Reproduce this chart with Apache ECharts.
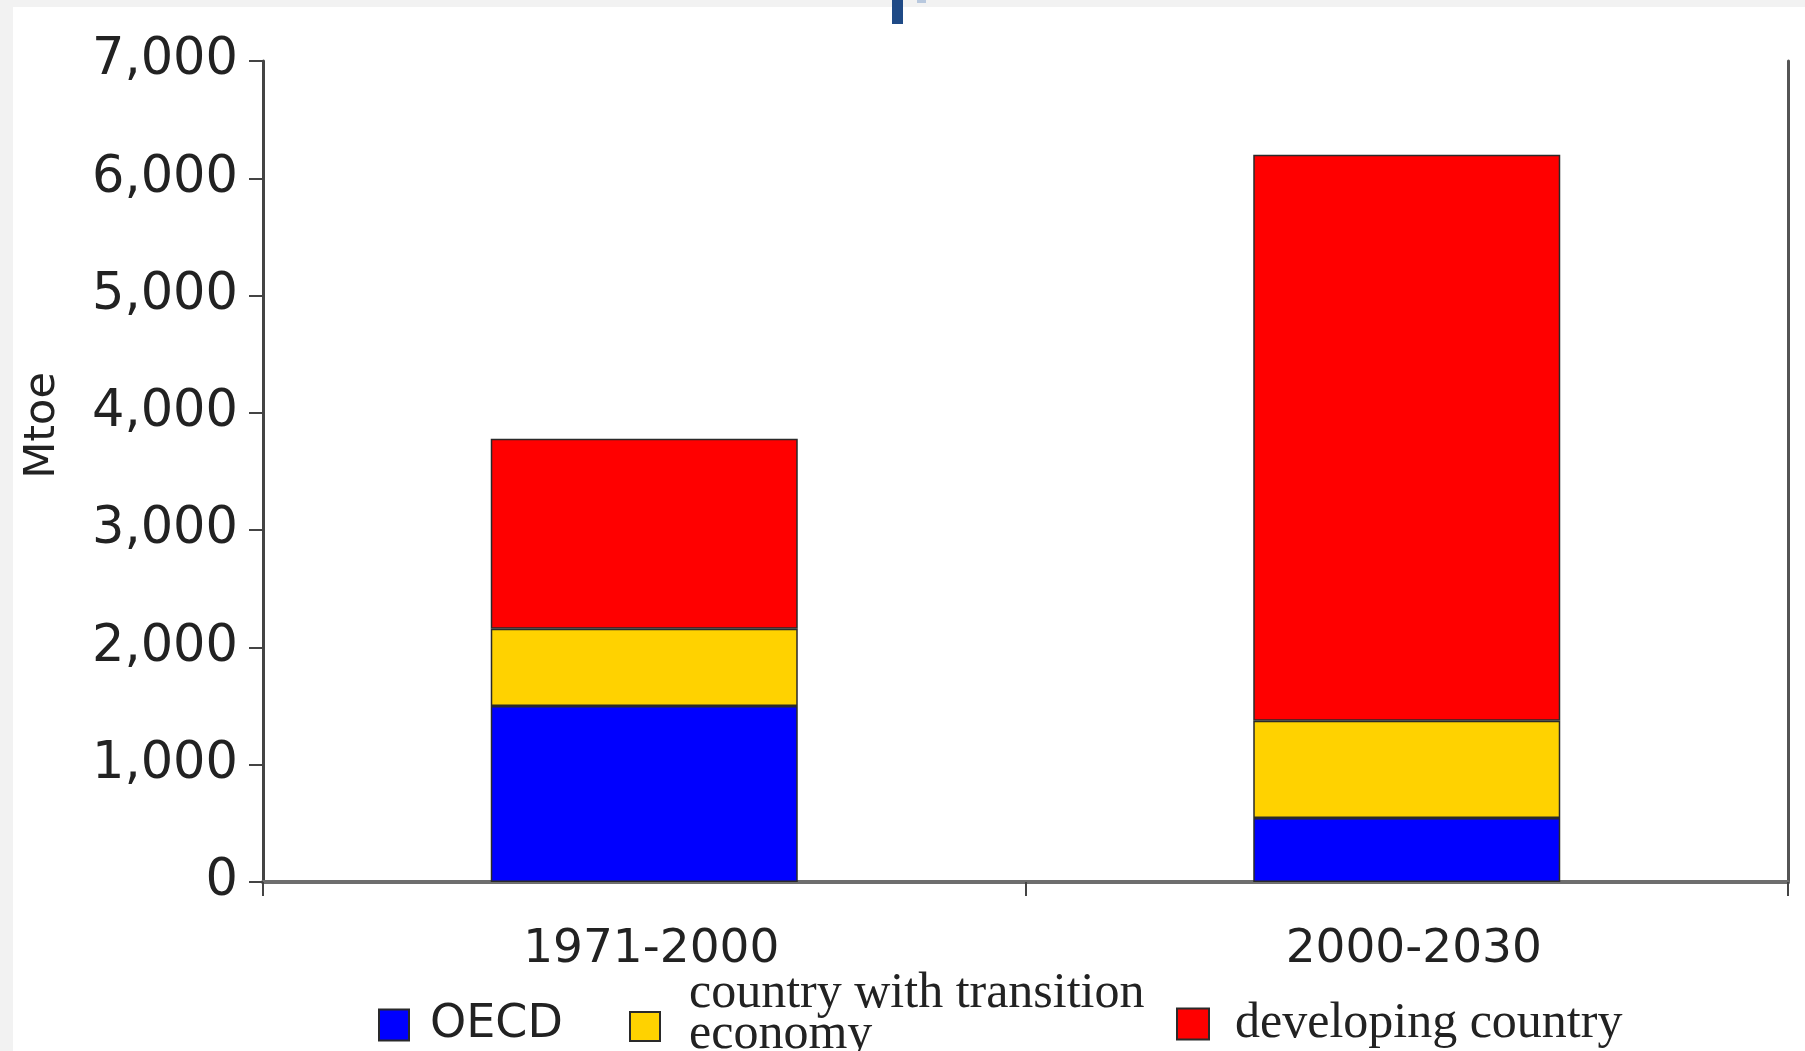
<!DOCTYPE html>
<html>
<head>
<meta charset="utf-8">
<script src="https://cdn.jsdelivr.net/npm/echarts@6/dist/echarts.min.js"></script>
<style>
  html, body { margin: 0; padding: 0; width: 1805px; height: 1051px; background: #f2f2f2; overflow: hidden; }
  #paper { position: absolute; left: 13px; top: 7px; right: 0; bottom: 0; background: #ffffff; }
  #mark { position: absolute; left: 892px; top: 0; width: 11px; height: 24px; background: #1f4a86; }
  #mark2 { position: absolute; left: 917px; top: 0; width: 9px; height: 3px; background: #b8c8de; }
  #main { position: absolute; left: 0; top: 0; width: 1805px; height: 1051px; }
</style>
</head>
<body>
<div id="paper"></div>
<div id="mark"></div>
<div id="mark2"></div>
<div id="main"></div>
<script>
// ---- data ----
const categories = ['1971-2000', '2000-2030'];
const oecd = [1500, 545];
const transition = [660, 830];
const developing = [1620, 4825];
const seriesNames = ['OECD', 'country with transition economy', 'developing country'];
const yTicks = [0, 1000, 2000, 3000, 4000, 5000, 6000, 7000];

const fmt = v => String(v).replace(/\B(?=(\d{3})+(?!\d))/g, ',');

const chart = echarts.init(document.getElementById('main'));
const border = { borderColor: '#2a2a2a', borderWidth: 1.5 };
const axisCol = '#444';

chart.setOption({
  backgroundColor: 'transparent',
  animation: false,
  grid: { left: 263, right: 17, top: 61, bottom: 169 },
  legend: [
    {
      data: [seriesNames[0]], left: 378, top: 1002, padding: 0, orient: 'horizontal',
      itemWidth: 30, itemHeight: 31, icon: 'rect',
      textStyle: { fontFamily: 'DejaVu Sans', fontSize: 46, color: '#222', padding: [0, 0, 0, 16] }
    },
    {
      data: [seriesNames[1]], left: 629, top: 969, padding: 0, orient: 'horizontal',
      itemWidth: 30, itemHeight: 29, icon: 'rect',
      formatter: function (name) {
        const cut = name.lastIndexOf(' ');
        return '{a|' + name.slice(0, cut) + '}\n{a|' + name.slice(cut + 1) + '}\n{s| }';
      },
      textStyle: {
        color: '#222', padding: [0, 0, 0, 24],
        rich: {
          a: { fontFamily: 'Liberation Serif', fontSize: 50, lineHeight: 41, color: '#222' },
          s: { fontSize: 8, lineHeight: 24 }
        }
      }
    },
    {
      data: [seriesNames[2]], left: 1176, top: 999, padding: 0, orient: 'horizontal',
      itemWidth: 32, itemHeight: 31, icon: 'rect',
      textStyle: { fontFamily: 'Liberation Serif', fontSize: 50, color: '#222', padding: [0, 0, 0, 21] }
    }
  ],
  xAxis: [
    {
      type: 'category', data: categories, position: 'bottom',
      axisLine: { show: true, lineStyle: { color: axisCol, width: 3 } },
      axisTick: { show: true, inside: false, length: 14, lineStyle: { color: axisCol, width: 2 } },
      axisLabel: { margin: 44, fontFamily: 'DejaVu Sans', fontSize: 47, color: '#222', padding: [0, 0, 0, 14] }
    },
    {
      type: 'category', data: categories, position: 'top',
      axisLine: { show: true, lineStyle: { color: '#6e6e6e', width: 4 } },
      axisTick: { show: false }, axisLabel: { show: false }
    }
  ],
  yAxis: [
    {
      type: 'value', min: 0, max: 7000, interval: 1000, position: 'left',
      name: 'Mtoe', nameLocation: 'middle', nameRotate: 90, nameGap: 199,
      nameTextStyle: { fontFamily: 'DejaVu Sans', fontSize: 43, color: '#222', padding: [0, 0, 0, 92] },
      axisLine: { show: true, lineStyle: { color: axisCol, width: 3 } },
      axisTick: { show: true, inside: false, length: 14, lineStyle: { color: axisCol, width: 2 } },
      axisLabel: { margin: 25, fontFamily: 'DejaVu Sans', fontSize: 51, color: '#222',
        formatter: v => yTicks.indexOf(v) >= 0 ? fmt(v) : '' },
      splitLine: { show: false }
    },
    {
      type: 'value', min: 0, max: 7000, interval: 1000, position: 'right',
      axisLine: { show: true, lineStyle: { color: '#555', width: 3 } },
      axisTick: { show: false }, axisLabel: { show: false }, splitLine: { show: false }
    }
  ],
  series: [
    { name: seriesNames[0], type: 'bar', stack: 'total', data: oecd, barWidth: 307,
      itemStyle: Object.assign({ color: '#0000ff' }, border) },
    { name: seriesNames[1], type: 'bar', stack: 'total', data: transition, barWidth: 307,
      itemStyle: Object.assign({ color: '#ffd200' }, border) },
    { name: seriesNames[2], type: 'bar', stack: 'total', data: developing, barWidth: 307,
      itemStyle: Object.assign({ color: '#ff0000' }, border) }
  ]
});
</script>
</body>
</html>
